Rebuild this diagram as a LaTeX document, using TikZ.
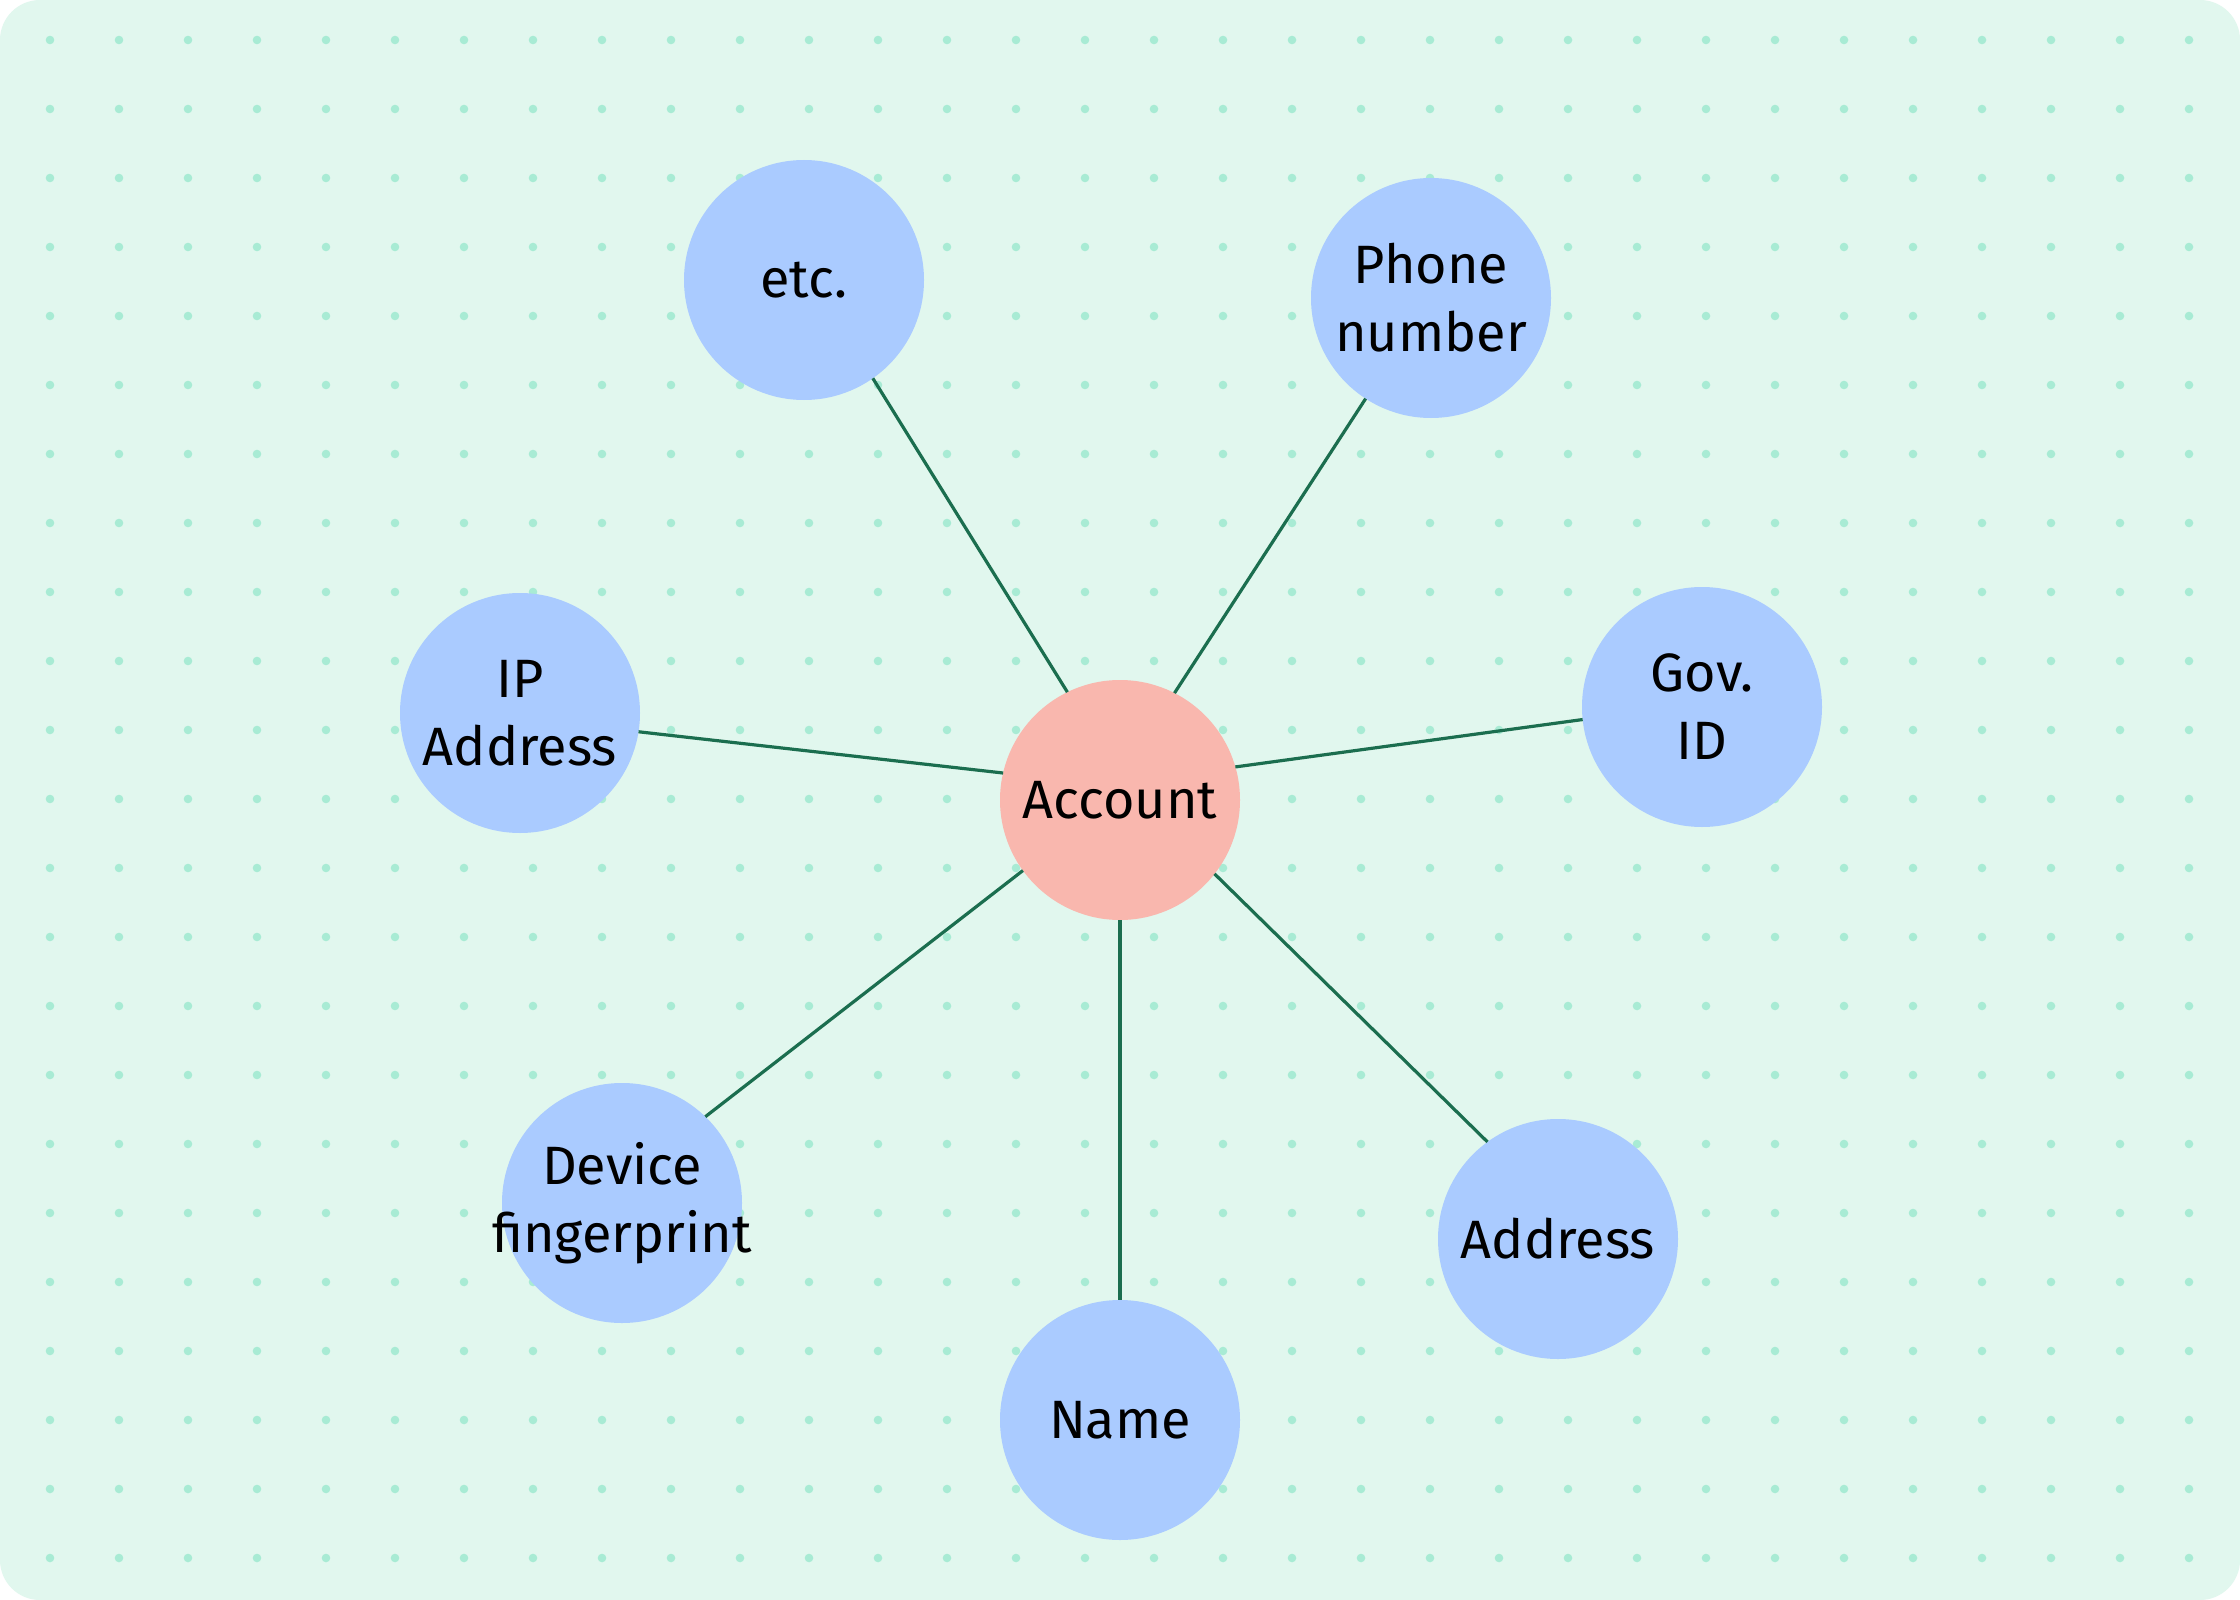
\documentclass[tikz,border=0pt]{standalone}
\usepackage{fontspec}
\setmainfont{Fira Sans}
\definecolor{bgmint}{HTML}{E1F7EE}
\definecolor{dotmint}{HTML}{A8EBD4}
\definecolor{nodeblue}{HTML}{AACBFF}
\definecolor{nodepink}{HTML}{F9B7AE}
\definecolor{edgegreen}{HTML}{1B6E4F}
\begin{document}
\begin{tikzpicture}[x=0.5pt,y=-0.5pt,
  entity/.style={circle, fill=nodeblue, minimum size=120pt, inner sep=0pt, outer sep=0pt},
  hub/.style={entity, fill=nodepink},
  lbl/.style={align=center, inner sep=0pt, font=\fontsize{27}{34}\selectfont},
  link/.style={draw=edgegreen, line width=1.6pt}]
\useasboundingbox (0,0) rectangle (2240,1600);
\fill[white] (0,0) rectangle (2240,1600);
\fill[bgmint, rounded corners=20pt] (0,0) rectangle (2240,1600);
\foreach \i in {0,...,31} \foreach \j in {0,...,22} \fill[dotmint] (50+69*\i, 40+69*\j) circle (2.15pt);
\node[hub, label={[lbl]center:Account}] (acc) at (1120,800) {};
\node[entity, label={[lbl]center:etc.}] (etc) at (804,280) {};
\node[entity, label={[lbl]center:{Phone\\number}}] (phone) at (1431,298) {};
\node[entity, label={[lbl]center:{IP\\Address}}] (ip) at (520,713) {};
\node[entity, label={[lbl]center:{Gov.\\ID}}] (gov) at (1702,707) {};
\node[entity, label={[lbl]center:{Device\\fingerprint}}] (dev) at (622,1203) {};
\node[entity, label={[lbl]center:Name}] (name) at (1120,1420) {};
\node[entity, label={[lbl]center:Address}] (addr) at (1558,1239) {};
\draw[link] (acc.116.4) -- (etc.-55.7);
\draw[link] (acc.63.6) -- (phone.237.7);
\draw[link] (acc.167.5) -- (ip.-9.6);
\draw[link] (acc.16.3) -- (gov.186.7);
\draw[link] (acc.216.6) -- (dev.46.7);
\draw[link] (acc.south) -- (name.north);
\draw[link] (acc.322.1) -- (addr.126.9);
\end{tikzpicture}
\end{document}
